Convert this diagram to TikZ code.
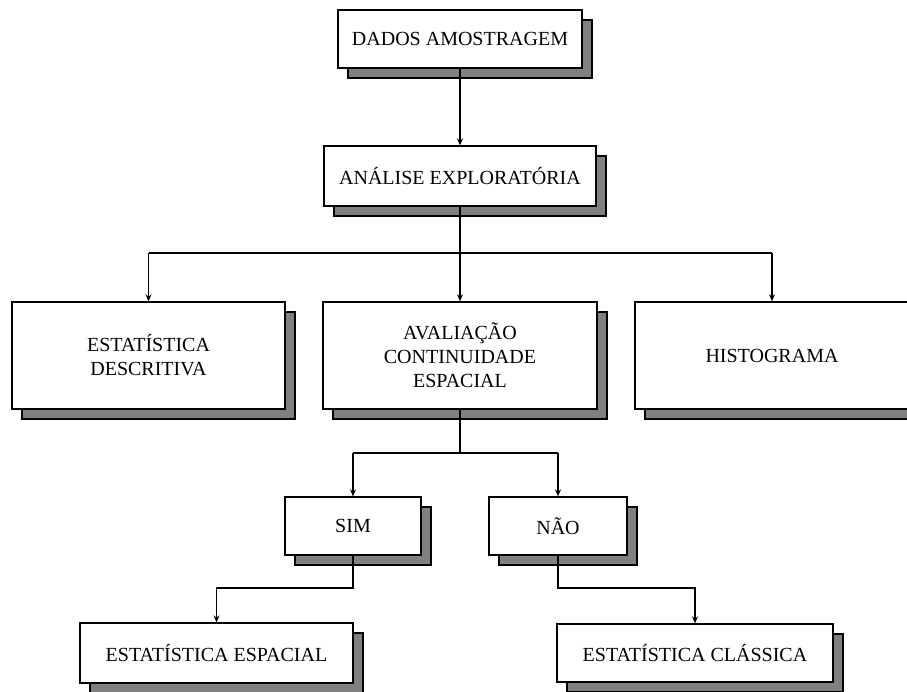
\documentclass[tikz,border=0pt]{standalone}
\usepackage{fontspec}
\setmainfont{Liberation Serif}
\usetikzlibrary{arrows.meta,shadows}
\definecolor{shadowgray}{HTML}{808080}
\begin{document}
\begin{tikzpicture}[x=1pt,y=-1pt,
  box/.style={draw=black, line width=1.3pt, fill=white, inner sep=0pt, align=center,
    font=\fontsize{20}{24}\selectfont,
    drop shadow={shadow xshift=10pt, shadow yshift=-10pt, fill=shadowgray, draw=black, line width=1.3pt, opacity=1}},
  conn/.style={line width=1.3pt, draw=black},
  arr/.style={conn, -{Stealth[length=7pt,width=6pt]}}]
\useasboundingbox (0,0) rectangle (907,691);
\node[box, minimum width=244pt, minimum height=58pt] (dados) at (460,39) {DADOS AMOSTRAGEM};
\node[box, minimum width=272pt, minimum height=60pt] (ana) at (460,176) {ANÁLISE EXPLORATÓRIA};
\node[box, minimum width=273pt, minimum height=107pt] (desc) at (148.5,355.5) {ESTATÍSTICA\\DESCRITIVA};
\node[box, minimum width=274pt, minimum height=107pt] (aval) at (460,355.5) {AVALIAÇÃO\\CONTINUIDADE\\ESPACIAL};
\node[box, minimum width=274pt, minimum height=107pt] (hist) at (772,355.5) {HISTOGRAMA};
\node[box, minimum width=136pt, minimum height=58pt] (sim) at (353,526) {SIM};
\node[box, minimum width=138pt, minimum height=58pt] (nao) at (558,526) {NÃO};
\node[box, minimum width=273pt, minimum height=60pt] (esp) at (216.5,653) {ESTATÍSTICA ESPACIAL};
\node[box, minimum width=276pt, minimum height=58pt] (cla) at (695,653) {ESTATÍSTICA CLÁSSICA};

\draw[arr] (dados.south) -- (ana.north);
\coordinate (j1) at (460,253);
\draw[conn] (ana.south) -- (j1);
\draw[conn] (j1 -| desc.north) -- (j1 -| hist.north);
\draw[arr] (j1 -| desc.north) -- (desc.north);
\draw[arr] (j1) -- (aval.north);
\draw[arr] (j1 -| hist.north) -- (hist.north);

\coordinate (j2) at (460,453);
\draw[conn] (aval.south) -- (j2);
\draw[conn] (j2 -| sim.north) -- (j2 -| nao.north);
\draw[arr] (j2 -| sim.north) -- (sim.north);
\draw[arr] (j2 -| nao.north) -- (nao.north);

\coordinate (j3) at (353,588);
\draw[arr] (sim.south) -- (j3) -| (esp.north);
\coordinate (j4) at (558,588);
\draw[arr] (nao.south) -- (j4) -| (cla.north);
\end{tikzpicture}
\end{document}
